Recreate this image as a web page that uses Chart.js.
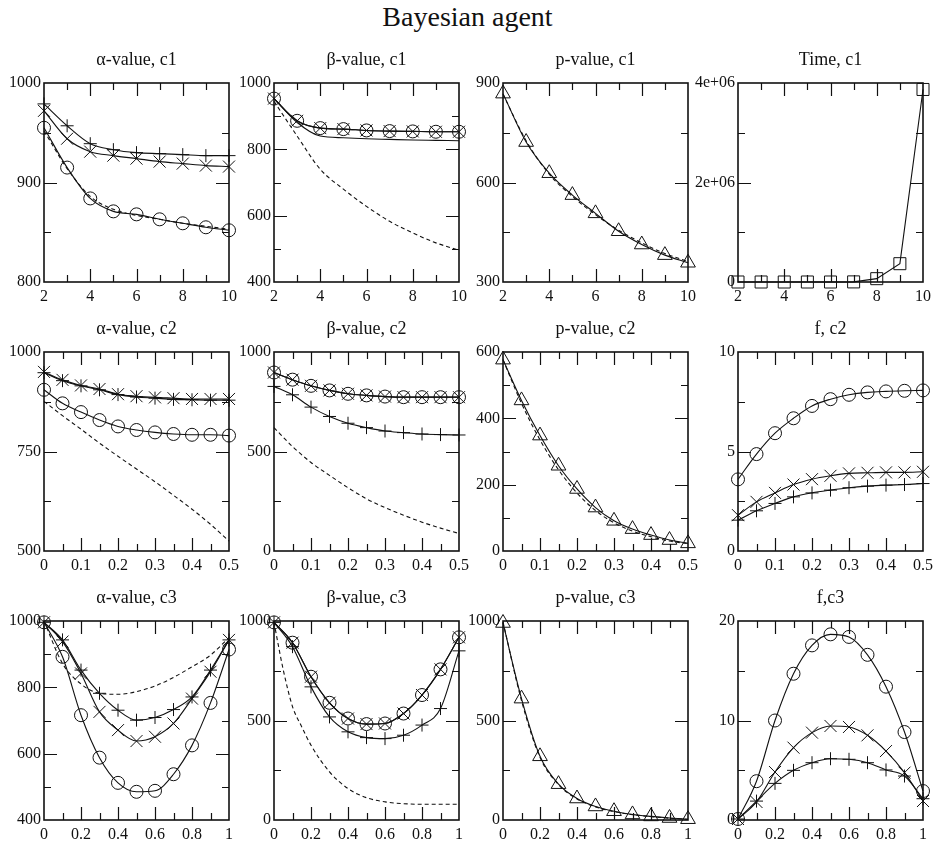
<!DOCTYPE html>
<html>
<head>
<meta charset="utf-8">
<script src="https://cdn.jsdelivr.net/npm/chart.js@4.4.1/dist/chart.umd.min.js"></script>
<style>
  body { margin: 0; background: #fff; width: 935px; height: 845px; position: relative; overflow: hidden; }
  #title { position: absolute; left: 0; top: 1px; width: 935px; text-align: center;
           font: 28px "Liberation Serif", "DejaVu Serif", serif; color: #111; }
  canvas { position: absolute; }
</style>
</head>
<body>
<div id="title">Bayesian agent</div>
<script>
// x values for the three rows
const xC1 = [2, 3, 4, 5, 6, 7, 8, 9, 10]
const xC2 = [0, 0.05, 0.1, 0.15, 0.2, 0.25, 0.3, 0.35, 0.4, 0.45, 0.5]
const xC3 = [0, 0.1, 0.2, 0.3, 0.4, 0.5, 0.6, 0.7, 0.8, 0.9, 1]

// row 1 (c1)
const aC1Circle = [955, 915, 884, 871, 868, 863, 859, 855, 852]
const aC1Cross  = [972, 944, 931, 927, 924, 921, 919, 917, 916]
const aC1Plus   = [979, 957, 939, 933, 930, 929, 928, 927, 927]
const aC1Dash   = [952, 914, 886, 873, 867, 863, 859, 856, 853]

const bC1Circle = [953, 886, 864, 861, 857, 855, 854, 853, 853]
const bC1Cross  = [953, 886, 864, 861, 857, 855, 854, 853, 853]
const bC1Plus   = [953, 881, 840, 835, 832, 830, 828, 827, 826]
const bC1Dash   = [945, 840, 740, 680, 628, 583, 548, 518, 496]

const pC1Tri    = [868, 722, 628, 562, 507, 453, 413, 381, 358]
const pC1Dash   = [866, 726, 625, 558, 503, 456, 418, 386, 362]

const tC1Square = [0, 0, 0, 0, 0, 2000, 67000, 368000, 3870000]

// row 2 (c2)
const aC2Circle = [905, 871, 849, 829, 813, 804, 798, 794, 792, 792, 790]
const aC2Cross  = [950, 930, 916, 907, 894, 889, 886, 884, 882, 882, 882]
const aC2Plus   = [948, 928, 915, 905, 893, 887, 884, 881, 880, 879, 879]
const aC2Dash   = [876, 840, 806, 771, 738, 706, 674, 640, 605, 567, 525]

const bC2Circle = [897, 861, 830, 807, 790, 782, 776, 773, 773, 773, 773]
const bC2Cross  = [897, 861, 830, 807, 790, 782, 776, 773, 773, 773, 773]
const bC2Plus   = [827, 785, 723, 676, 642, 620, 603, 595, 588, 585, 583]
const bC2Dash   = [620, 525, 445, 380, 318, 262, 218, 180, 145, 115, 88]

const pC2Tri    = [577, 454, 348, 257, 187, 131, 91, 66, 48, 33, 23]
const pC2Dash   = [577, 445, 335, 245, 175, 122, 85, 60, 43, 30, 22]

const fC2Circle = [3.6, 4.87, 5.92, 6.67, 7.29, 7.63, 7.85, 7.97, 8.02, 8.05, 8.07]
const fC2Cross  = [1.8, 2.47, 2.92, 3.34, 3.61, 3.78, 3.9, 3.93, 3.95, 3.95, 3.98]
const fC2Plus   = [1.55, 2.02, 2.39, 2.72, 2.92, 3.06, 3.18, 3.26, 3.31, 3.34, 3.39]

// row 3 (c3)
const aC3Circle = [996, 892, 716, 588, 512, 485, 488, 538, 625, 753, 914]
const aC3Cross  = [996, 938, 842, 726, 671, 638, 651, 691, 766, 847, 943]
const aC3Plus   = [996, 943, 852, 782, 731, 701, 709, 733, 771, 852, 943]
const aC3Dash   = [1000, 872, 810, 782, 779, 787, 804, 830, 862, 897, 950]

const bC3Circle = [993, 891, 720, 589, 510, 482, 485, 535, 628, 757, 918]
const bC3Cross  = [993, 891, 720, 589, 510, 482, 485, 535, 628, 757, 918]
const bC3Plus   = [993, 871, 669, 518, 443, 414, 409, 426, 477, 560, 850]
const xC3Dash   = [0, 0.05, 0.1, 0.15, 0.2, 0.3, 0.4, 0.5, 0.6, 0.7, 0.8, 0.9, 1]
const bC3Dash   = [993, 755, 570, 468, 376, 242, 158, 112, 91, 82, 79, 79, 79]

const pC3Tri    = [990, 610, 320, 180, 108, 68, 44, 28, 18, 10, 4]
const pC3Dash   = [995, 600, 315, 178, 106, 66, 42, 27, 17, 9, 3]

const fC3Circle = [0.1, 3.9, 10.0, 14.7, 17.55, 18.66, 18.4, 16.6, 13.4, 8.84, 2.91]
const fC3Cross  = [0.1, 1.81, 4.82, 7.27, 8.78, 9.45, 9.35, 8.51, 6.93, 4.76, 1.91]
const fC3Plus   = [0.1, 1.9, 3.68, 4.99, 5.76, 6.16, 6.1, 5.76, 5.03, 4.42, 2.14]

// layout of the 12 plot boxes
const colLeft = [44, 274, 503, 738]
const rowTop = [83, 352, 621]
const plotW = 185, plotH = 199
const PADL = 50, PADT = 40, PADR = 20, PADB = 30

const FONT = '"Liberation Serif", "DejaVu Serif", serif'
const INK = '#111'
const RAD = { circle: 6.5, crossRot: 8.5, cross: 6.5, triangle: 8.5, rect: 8.5 }

const pts = (xs, ys) => xs.map((x, i) => ({ x: x, y: ys[i] }))

function series(xs, ys, mark, opts) {
  opts = opts || {}
  return {
    data: pts(xs, ys),
    borderColor: INK,
    borderWidth: 1.1,
    borderDash: opts.dash ? [4, 3] : [],
    pointStyle: mark || 'circle',
    pointRadius: mark ? RAD[mark] : 0,
    pointBorderColor: INK,
    pointBackgroundColor: 'rgba(0,0,0,0)',
    pointBorderWidth: 1,
    cubicInterpolationMode: opts.straight ? 'default' : 'monotone',
    tension: 0,
    clip: false,
    fill: false
  }
}

const fmtX = v => String(Math.round(v * 100) / 100)
const fmtE = v => v === 0 ? '0' : (v / 1e6) + 'e+06'

const panels = [
  { title: 'α-value, c1', r: 0, c: 0, x: [2, 10, 2, 1], y: [800, 1000, 100, 50],
    ds: [series(xC1, aC1Plus, 'cross'), series(xC1, aC1Cross, 'crossRot'),
         series(xC1, aC1Dash, null, { dash: true }), series(xC1, aC1Circle, 'circle')] },
  { title: 'β-value, c1', r: 0, c: 1, x: [2, 10, 2, 1], y: [400, 1000, 200, 100],
    ds: [series(xC1, bC1Plus, null), series(xC1, bC1Dash, null, { dash: true }),
         series(xC1, bC1Circle, 'circle'), series(xC1, bC1Cross, 'crossRot')] },
  { title: 'p-value, c1', r: 0, c: 2, x: [2, 10, 2, 1], y: [300, 900, 300, 150],
    ds: [series(xC1, pC1Dash, null, { dash: true }), series(xC1, pC1Tri, 'triangle')] },
  { title: 'Time, c1', r: 0, c: 3, x: [2, 10, 2, 1], y: [0, 4e6, 2e6, 1e6], fy: fmtE,
    ds: [series(xC1, tC1Square, 'rect', { straight: true })] },

  { title: 'α-value, c2', r: 1, c: 0, x: [0, 0.5, 0.1, 0.05], y: [500, 1000, 250, 125],
    ds: [series(xC2, aC2Plus, 'cross'), series(xC2, aC2Cross, 'crossRot'),
         series(xC2, aC2Dash, null, { dash: true }), series(xC2, aC2Circle, 'circle')] },
  { title: 'β-value, c2', r: 1, c: 1, x: [0, 0.5, 0.1, 0.05], y: [0, 1000, 500, 250],
    ds: [series(xC2, bC2Plus, 'cross'), series(xC2, bC2Dash, null, { dash: true }),
         series(xC2, bC2Circle, 'circle'), series(xC2, bC2Cross, 'crossRot')] },
  { title: 'p-value, c2', r: 1, c: 2, x: [0, 0.5, 0.1, 0.05], y: [0, 600, 200, 100],
    ds: [series(xC2, pC2Dash, null, { dash: true }), series(xC2, pC2Tri, 'triangle')] },
  { title: 'f, c2', r: 1, c: 3, x: [0, 0.5, 0.1, 0.05], y: [0, 10, 5, 2.5],
    ds: [series(xC2, fC2Plus, 'cross'), series(xC2, fC2Cross, 'crossRot'), series(xC2, fC2Circle, 'circle')] },

  { title: 'α-value, c3', r: 2, c: 0, x: [0, 1, 0.2, 0.1], y: [400, 1000, 200, 100],
    ds: [series(xC3, aC3Plus, 'cross'), series(xC3, aC3Cross, 'crossRot'),
         series(xC3, aC3Dash, null, { dash: true }), series(xC3, aC3Circle, 'circle')] },
  { title: 'β-value, c3', r: 2, c: 1, x: [0, 1, 0.2, 0.1], y: [0, 1000, 500, 250],
    ds: [series(xC3, bC3Plus, 'cross'), series(xC3Dash, bC3Dash, null, { dash: true }),
         series(xC3, bC3Circle, 'circle'), series(xC3, bC3Cross, 'crossRot')] },
  { title: 'p-value, c3', r: 2, c: 2, x: [0, 1, 0.2, 0.1], y: [0, 1000, 500, 250],
    ds: [series(xC3, pC3Dash, null, { dash: true }), series(xC3, pC3Tri, 'triangle')] },
  { title: 'f,c3', r: 2, c: 3, x: [0, 1, 0.2, 0.1], y: [0, 20, 10, 5],
    ds: [series(xC3, fC3Plus, 'cross'), series(xC3, fC3Cross, 'crossRot'), series(xC3, fC3Circle, 'circle')] }
]

// frame box, inward major/minor ticks on all four sides, panel title
const frameTicks = {
  id: 'frameTicks',
  afterDraw(chart, args, o) {
    const ctx = chart.ctx, a = chart.chartArea
    const sx = chart.scales.x, sy = chart.scales.y
    ctx.save()
    ctx.strokeStyle = INK
    ctx.lineWidth = 1.2
    const marks = (scale, step, minor, horiz) => {
      const n = Math.round((scale.max - scale.min) / minor)
      const every = Math.round(step / minor)
      for (let i = 1; i < n; i++) {
        const p = Math.round(scale.getPixelForValue(scale.min + i * minor)) + 0.5
        const len = i % every === 0 ? 13 : 7
        ctx.beginPath()
        if (horiz) {
          ctx.moveTo(p, a.bottom); ctx.lineTo(p, a.bottom - len)
          ctx.moveTo(p, a.top); ctx.lineTo(p, a.top + len)
        } else {
          ctx.moveTo(a.left, p); ctx.lineTo(a.left + len, p)
          ctx.moveTo(a.right, p); ctx.lineTo(a.right - len, p)
        }
        ctx.stroke()
      }
    }
    marks(sx, o.xStep, o.xMinor, true)
    marks(sy, o.yStep, o.yMinor, false)
    ctx.lineWidth = 1.6
    ctx.strokeRect(a.left, a.top, a.right - a.left, a.bottom - a.top)
    ctx.fillStyle = INK
    ctx.font = '18px ' + FONT
    ctx.textAlign = 'center'
    ctx.textBaseline = 'middle'
    ctx.fillText(o.title, (a.left + a.right) / 2, a.top - 23)
    ctx.restore()
  }
}

panels.forEach(p => {
  const cv = document.createElement('canvas')
  const w = PADL + plotW + PADR, h = PADT + plotH + PADB
  cv.width = w; cv.height = h
  cv.style.left = (colLeft[p.c] - PADL) + 'px'
  cv.style.top = (rowTop[p.r] - PADT) + 'px'
  cv.style.width = w + 'px'; cv.style.height = h + 'px'
  document.body.appendChild(cv)

  new Chart(cv, {
    type: 'line',
    data: { datasets: p.ds },
    plugins: [frameTicks],
    options: {
      responsive: false,
      animation: false,
      devicePixelRatio: 1,
      layout: { padding: { top: PADT, right: PADR, left: 0, bottom: 0 } },
      plugins: {
        legend: { display: false },
        tooltip: { enabled: false },
        frameTicks: { title: p.title, xStep: p.x[2], xMinor: p.x[3], yStep: p.y[2], yMinor: p.y[3] }
      },
      scales: {
        x: {
          type: 'linear', min: p.x[0], max: p.x[1],
          grid: { display: false, drawTicks: false }, border: { display: false },
          ticks: { stepSize: p.x[2], autoSkip: false, maxRotation: 0, padding: 5, color: INK,
                   font: { family: FONT, size: 16 }, callback: fmtX },
          afterFit: s => { s.height = PADB }
        },
        y: {
          type: 'linear', min: p.y[0], max: p.y[1],
          grid: { display: false, drawTicks: false }, border: { display: false },
          ticks: { stepSize: p.y[2], autoSkip: false, padding: 3, color: INK,
                   font: { family: FONT, size: 16 }, callback: p.fy || (v => String(v)) },
          afterFit: s => { s.width = PADL }
        }
      }
    }
  })
})
</script>
</body>
</html>
